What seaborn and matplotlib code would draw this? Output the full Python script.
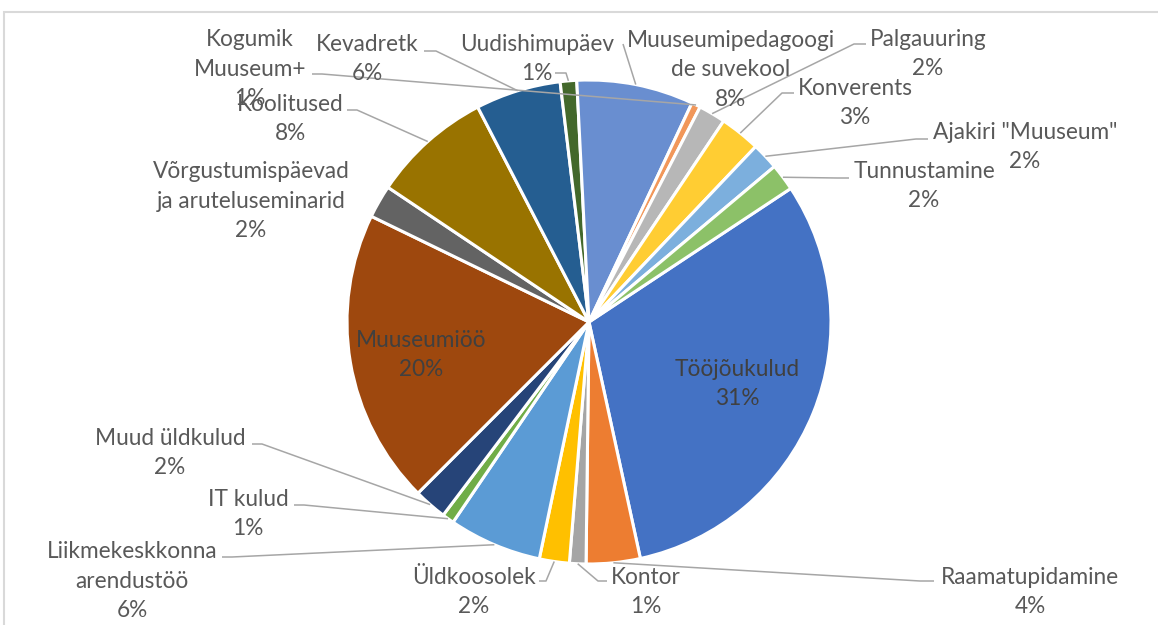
import matplotlib
matplotlib.use("Agg")
import matplotlib.pyplot as plt
import seaborn as sns
import numpy as np
from matplotlib.patches import Rectangle

# ---------------- data ----------------
categories = [
    "Tööjõukulud", "Raamatupidamine", "Kontor", "Üldkoosolek",
    "Liikmekeskkonna\narendustöö", "IT kulud", "Muud üldkulud", "Muuseumiöö",
    "Võrgustumispäevad\nja aruteluseminarid", "Koolitused", "Kevadretk",
    "Uudishimupäev", "Muuseumipedagoogi\nde suvekool", "Kogumik\nMuuseum+",
    "Palgauuring", "Konverents", 'Ajakiri "Muuseum"', "Tunnustamine",
]
values = [30.9, 3.6, 1.1, 2.0, 6.2, 0.8, 2.2, 19.7, 2.2, 8.0, 5.7, 1.1,
          7.8, 0.6, 1.8, 2.7, 1.8, 1.8]
slice_colors = ["#4472C4", "#ED7D31", "#A5A5A5", "#FFC000", "#5B9BD5", "#70AD47",
                "#264478", "#9E480E", "#636363", "#997300", "#255E91", "#43682B",
                "#698ED0", "#F1975A", "#B7B7B7", "#FFCD33", "#7CAFDD", "#8CC168"]

# ---------------- layout (pixel positions of label blocks, y measured from top) ----------------
W, H = 1158, 625
CX, CY, R = 589, 322, 242
LINE_H = 29.5
label_pos = [
    (737, 384), (1030, 592), (646, 592), (474, 592),
    (132, 581), (248, 514), (170, 453), (421, 355),
    (251, 201), (290, 119), (367, 59), (537, 59),
    (731, 70), (250, 69), (928, 54), (855, 103),
    (1025, 147), (924, 186),
]
inside = {0, 7}
# leader anchor at label (x, y, stub length signed); None = no leader
leaders = [
    None, (934, 581, -14), (607, 581, -9), (539, 581, 7),
    (222, 557, 10), (294, 505, 10), (252, 444, 10), None,
    None, (347, 110, 10), (424, 51, 12), (555, 73, 11),
    (623, 44, 0), (312, 74, 10), (866, 44, -12), (794, 93, -12),
    (928, 139, -12), (849, 178, -12),
]

sns.set_theme(style="white")
plt.rcParams["font.family"] = ["Lato", "DejaVu Sans"]
palette = sns.color_palette(slice_colors)

fig = plt.figure(figsize=(W / 100, H / 100), dpi=100)
ax = fig.add_axes([0, 0, 1, 1])

wedges, _ = ax.pie(values, colors=palette, startangle=33.5, counterclock=False,
                   center=(CX, H - CY), radius=R,
                   wedgeprops=dict(edgecolor="white", linewidth=2.2))
ax.set_xlim(0, W)
ax.set_ylim(0, H)
ax.set_aspect("equal")
ax.axis("off")

total = sum(values)
for i, (name, v, w) in enumerate(zip(categories, values, wedges)):
    pct = f"{v / total * 100:.0f}%"
    lx, ly = label_pos[i]
    col = "#404040" if i in inside else "#595959"
    lines = name.split("\n") + [pct]
    n = len(lines)
    for k, line in enumerate(lines):
        yy = ly + (k - (n - 1) / 2) * LINE_H
        ax.text(lx, H - yy, line, ha="center", va="center",
                fontsize=16.3, color=col, zorder=5)
    ld = leaders[i]
    if ld is None:
        continue
    mid = np.deg2rad((w.theta1 + w.theta2) / 2)
    ex = CX + R * np.cos(mid)
    ey = (H - CY) + R * np.sin(mid)
    ax0, ay0, stub = ld
    xs = [ax0, ax0 + stub, ex]
    ys = [H - ay0, H - ay0, ey]
    ax.plot(xs, ys, color="#A6A6A6", lw=1.1, zorder=4, solid_capstyle="butt")

# chart area border (top and left visible)
fig.patches.append(Rectangle((3.5 / W, -0.1), 1.2, (H - 12) / H + 0.1,
                             transform=fig.transFigure, fill=False,
                             edgecolor="#D9D9D9", lw=1.5))

fig.savefig("out.png", dpi=100, facecolor="white")
